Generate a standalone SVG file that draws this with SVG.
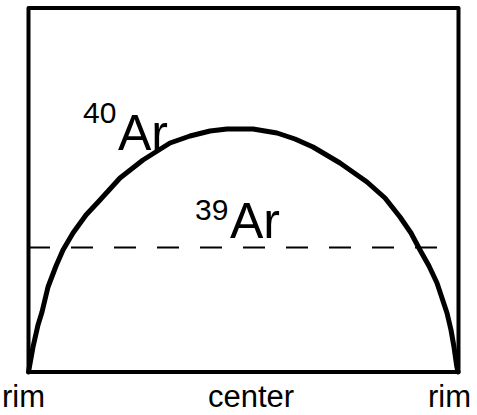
<svg xmlns="http://www.w3.org/2000/svg" width="477" height="415" viewBox="0 0 477 415">
<style>
.frame{fill:none;stroke:#000;stroke-width:4;stroke-linejoin:round}
.curve{fill:none;stroke:#000;stroke-width:5;stroke-linejoin:round;stroke-linecap:round}
.dash{fill:none;stroke:#000;stroke-width:2;stroke-dasharray:22 21}
.lbl{font-family:"Liberation Sans",Arial,sans-serif;fill:#000}
</style>
<rect width="477" height="415" fill="#fff"/>
<g id="frame"><rect class="frame" x="28.5" y="8" width="430" height="364"/></g>
<g id="connectors">
<line class="dash" x1="28" y1="247.5" x2="458" y2="247.5"/>
<path id="curve" class="curve" d="M28.5,372 L33,347 L38,325 L42,312 L48,287 L56,266 L63,250 L73,233 L86,215 L100,200 L120,178 L143,160 L170,143 L190,136 L210,131 L227,129 L253,129 L277,133 L295,139 L313,147 L340,163 L367,182 L385,198 L400,217 L411,233 L420,250 L429,266 L437,283 L442,298 L447,313 L451,330 L454,347 L456.7,366 L458,372"/>
</g>
<g id="label-40Ar"><text class="lbl" x="83" y="123" font-size="30">40</text><text class="lbl" x="118" y="150" font-size="50">Ar</text></g>
<g id="label-39Ar"><text class="lbl" x="195" y="220" font-size="30">39</text><text class="lbl" x="230" y="238" font-size="50">Ar</text></g>
<g id="label-rim-left"><text class="lbl" x="2" y="407" font-size="31">rim</text></g>
<g id="label-center"><text class="lbl" x="208" y="407" font-size="31">center</text></g>
<g id="label-rim-right"><text class="lbl" x="428" y="407" font-size="31">rim</text></g>
</svg>
